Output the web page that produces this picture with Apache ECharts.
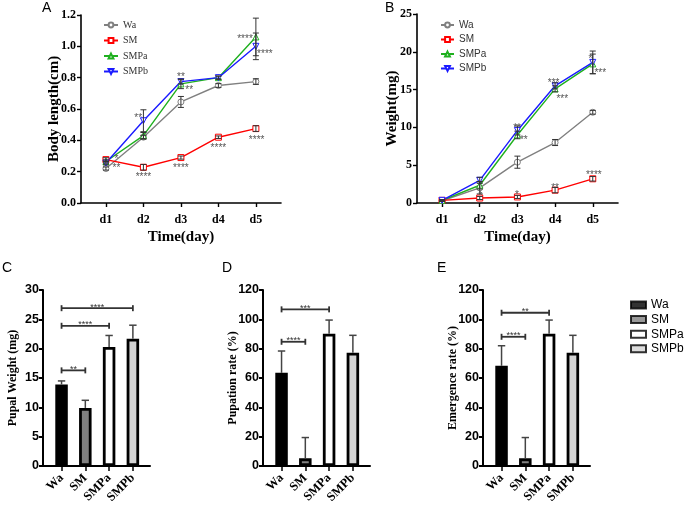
<!DOCTYPE html>
<html><head><meta charset="utf-8">
<script src="https://cdn.jsdelivr.net/npm/echarts@6/dist/echarts.min.js"></script>
<style>html,body{margin:0;padding:0;background:#fff}#c{width:685px;height:507px}</style>
</head><body><div id="c"></div>
<script>
// ---------- DATA ----------
const days = ['d1','d2','d3','d4','d5'];
const groups = ['Wa','SM','SMPa','SMPb'];
const dayPos = [1,2,3,4,5];
const groupPos = [1,2,3,4];

// Panel A: body length (cm)
const lenWa   = [0.22, 0.42, 0.645, 0.75, 0.775];
const lenSM   = [0.277, 0.228, 0.29, 0.42, 0.475];
const lenSMPa = [0.265, 0.43, 0.76, 0.80, 1.06];
const lenSMPb = [0.255, 0.525, 0.775, 0.80, 1.0];
const lenErrWa   = [0.01, 0.012, 0.035, 0.012, 0.018];
const lenErrSM   = [0.012, 0.018, 0.01, 0.008, 0.018];
const lenErrSMPa = [0.01, 0.02, 0.03, 0.01, 0.12];
const lenErrSMPb = [0.012, 0.07, 0.015, 0.01, 0.085];
const sigA = [[1.28,0.30,'*'],[1.28,0.24,'**'],[2.0,0.185,'****'],[1.86,0.563,'**'],[3.0,0.24,'****'],
  [3.0,0.82,'**'],[3.22,0.74,'**'],[4.0,0.368,'****'],[4.71,1.063,'****'],[5.24,0.967,'****'],[5.02,0.419,'****']];

// Panel B: weight (mg)
const wtWa   = [0.3, 2.0, 5.4, 8.0, 12.0];
const wtSM   = [0.35, 0.66, 0.8, 1.7, 3.2];
const wtSMPa = [0.35, 2.35, 9.0, 15.1, 18.4];
const wtSMPb = [0.35, 3.0, 9.6, 15.5, 18.6];
const wtErrWa   = [0.1, 0.8, 0.8, 0.4, 0.25];
const wtErrSM   = [0.1, 0.2, 0.2, 0.35, 0.3];
const wtErrSMPa = [0.1, 0.5, 0.5, 0.4, 1.3];
const wtErrSMPb = [0.1, 0.4, 0.6, 0.4, 1.5];
const sigB = [[2.02,1.3,'*'],[2.99,10.35,'**'],[3.17,8.7,'**'],[2.99,1.45,'*'],[3.96,16.3,'***'],
  [4.19,14.1,'***'],[4.0,2.3,'**'],[4.94,19.45,'*'],[5.2,17.5,'***'],[5.03,4.05,'****']];

// Panel C: pupal weight (mg)
const pupalWeight = [13.9, 9.9, 20.3, 21.7];
const pupalWeightErr = [0.6, 1.3, 1.95, 2.3];
const bracketsC = [[1,2,16.3,'**'],[1,3,23.9,'****'],[1,4,26.9,'****']];
// Panel D: pupation rate (%)
const pupationRate = [63.5, 5.2, 90.2, 77.2];
const pupationRateErr = [14.9, 14.2, 9.3, 11.9];
const bracketsD = [[1,2,84.7,'****'],[1,3,106.8,'***']];
// Panel E: emergence rate (%)
const emergenceRate = [68.3, 5.2, 90.2, 77.2];
const emergenceRateErr = [13.7, 14.2, 9.3, 11.9];
const bracketsE = [[1,2,88.1,'****'],[1,3,104.5,'**']];

// ---------- STYLE ----------
const SERIF = 'Liberation Serif';
const SANS = 'Liberation Sans';
const lineColors = ['#808080','#ff0000','#1fb01f','#1a1aff'];
const symbols = ['circle','rect','triangle','triangle'];
const symRot = [0,0,0,180];
const barColors = ['#000000','#808080','#ffffff','#d3d3d3'];

const chart = echarts.init(document.getElementById('c'), null, {renderer:'canvas'});

function pts(vals){ return vals.map((v,i)=>[dayPos[i], v]); }
function errPts(vals, errs, pos){ return vals.map((v,i)=>[pos[i], v, errs[i]]); }

function errSeries(grid, vals, errs, pos, twoSided, color, lw, cap){
  return {
    type:'custom', xAxisIndex:grid, yAxisIndex:grid, z:5, silent:true,
    encode:{x:0,y:1},
    data: errPts(vals, errs, pos),
    renderItem(params, api){
      const x = api.value(0), y = api.value(1), e = api.value(2);
      const top = api.coord([x, y+e]);
      const bot = twoSided ? api.coord([x, y-e]) : api.coord([x, y]);
      const st = {stroke:color, lineWidth:lw};
      const ch = [
        {type:'line', shape:{x1:top[0],y1:top[1],x2:bot[0],y2:bot[1]}, style:st},
        {type:'line', shape:{x1:top[0]-cap,y1:top[1],x2:top[0]+cap,y2:top[1]}, style:st}
      ];
      if (twoSided) ch.push({type:'line', shape:{x1:bot[0]-cap,y1:bot[1],x2:bot[0]+cap,y2:bot[1]}, style:st});
      return {type:'group', children:ch};
    }
  };
}

function sigSeries(grid, arr){
  return {
    type:'custom', xAxisIndex:grid, yAxisIndex:grid, z:6, silent:true,
    encode:{x:0,y:1},
    data: arr.map(a=>[a[0], a[1]]),
    renderItem(params, api){
      const p = api.coord([api.value(0), api.value(1)]);
      return {type:'text', x:p[0], y:p[1]+3, style:{text:arr[params.dataIndex][2], fill:'#555',
        font:'10px ' + SANS, align:'center', verticalAlign:'middle'}};
    }
  };
}

function bracketSeries(grid, arr){
  return {
    type:'custom', xAxisIndex:grid, yAxisIndex:grid, z:6, silent:true,
    encode:{x:[0,1],y:2},
    data: arr.map(a=>[a[0], a[1], a[2]]),
    renderItem(params, api){
      const a = api.coord([api.value(0), api.value(2)]);
      const b = api.coord([api.value(1), api.value(2)]);
      const st = {stroke:'#333', lineWidth:1.8};
      return {type:'group', children:[
        {type:'line', shape:{x1:a[0],y1:a[1],x2:b[0],y2:b[1]}, style:st},
        {type:'line', shape:{x1:a[0],y1:a[1]-3,x2:a[0],y2:a[1]+3}, style:st},
        {type:'line', shape:{x1:b[0],y1:b[1]-3,x2:b[0],y2:b[1]+3}, style:st},
        {type:'text', x:(a[0]+b[0])/2, y:a[1]-1, style:{text:arr[params.dataIndex][3], fill:'#333',
          font:'9px ' + SANS, align:'center', verticalAlign:'middle'}}
      ]};
    }
  };
}

function lineSeries(grid, name, vals, k){
  return {
    type:'line', name:name, xAxisIndex:grid, yAxisIndex:grid, data:pts(vals), z:3,
    symbol:symbols[k], symbolRotate:symRot[k], symbolSize:6, showSymbol:true,
    lineStyle:{color:lineColors[k], width:1.4},
    itemStyle:{color:'#ffffff', borderColor:lineColors[k], borderWidth:1},
    emphasis:{disabled:true}, animation:false
  };
}

function lineXAxis(grid){
  return {
    type:'value', gridIndex:grid, min:0.335, max:5.67,
    axisLine:{show:true, lineStyle:{color:'#000', width:1.6}},
    axisTick:{show:true, customValues:dayPos, length:4, lineStyle:{color:'#000', width:1.4}},
    axisLabel:{customValues:dayPos, formatter:v=>days[Math.round(v)-1], color:'#000',
      fontFamily:SERIF, fontWeight:'bold', fontSize:12, margin:11},
    splitLine:{show:false},
    name:'Time(day)', nameLocation:'middle', nameGap:27, nameMoveOverlap:false,
    nameTextStyle:{fontFamily:SERIF, fontWeight:'bold', fontSize:15, color:'#000'}
  };
}
function lineYAxis(grid, max, interval, name, fmt, gap){
  return {
    type:'value', gridIndex:grid, min:0, max:max, interval:interval,
    axisLine:{show:true, lineStyle:{color:'#000', width:1.6}},
    axisTick:{show:true, length:4, lineStyle:{color:'#000', width:1.4}},
    axisLabel:{formatter:fmt, color:'#000', fontFamily:SERIF, fontWeight:'bold', fontSize:12, margin:5},
    splitLine:{show:false},
    name:name, nameLocation:'middle', nameGap:gap, nameMoveOverlap:false,
    nameTextStyle:{fontFamily:SERIF, fontWeight:'bold', fontSize:15, color:'#000'}
  };
}
function barXAxis(grid){
  return {
    type:'value', gridIndex:grid, min:0.22, max:4.72,
    axisLine:{show:true, lineStyle:{color:'#000', width:2}},
    axisTick:{show:true, customValues:groupPos, length:5, lineStyle:{color:'#000', width:1.5}},
    axisLabel:{customValues:groupPos, formatter:v=>groups[Math.round(v)-1], rotate:45, color:'#000',
      fontFamily:SERIF, fontWeight:'bold', fontSize:12.5, margin:10},
    splitLine:{show:false}
  };
}
function barYAxis(grid, max, interval, name){
  return {
    type:'value', gridIndex:grid, min:0, max:max, interval:interval,
    axisLine:{show:true, lineStyle:{color:'#000', width:2}},
    axisTick:{show:true, length:4, lineStyle:{color:'#000', width:2}},
    axisLabel:{color:'#000', fontFamily:SANS, fontWeight:'bold', fontSize:12.5, margin:4},
    splitLine:{show:false},
    name:name, nameLocation:'middle', nameGap:24, nameMoveOverlap:false,
    nameTextStyle:{fontFamily:SERIF, fontWeight:'bold', fontSize:12, color:'#000'}
  };
}
function barSeries(grid, vals){
  return {
    type:'bar', xAxisIndex:grid, yAxisIndex:grid, barWidth:12.5, z:2,
    data: vals.map((v,i)=>({value:[groupPos[i], v], itemStyle:{color:barColors[i]}})),
    itemStyle:{borderColor:'#000', borderWidth:2.8},
    emphasis:{disabled:true}, animation:false
  };
}

const series = [];
// A
[lenWa,lenSM,lenSMPa,lenSMPb].forEach((v,k)=>series.push(lineSeries(0, groups[k], v, k)));
[[lenWa,lenErrWa],[lenSM,lenErrSM],[lenSMPa,lenErrSMPa],[lenSMPb,lenErrSMPb]].forEach(p=>
  series.push(errSeries(0, p[0], p[1], dayPos, true, '#333', 1, 3)));
series.push(sigSeries(0, sigA));
// B
[wtWa,wtSM,wtSMPa,wtSMPb].forEach((v,k)=>series.push(lineSeries(1, groups[k], v, k)));
[[wtWa,wtErrWa],[wtSM,wtErrSM],[wtSMPa,wtErrSMPa],[wtSMPb,wtErrSMPb]].forEach(p=>
  series.push(errSeries(1, p[0], p[1], dayPos, true, '#333', 1, 3)));
series.push(sigSeries(1, sigB));
// C, D, E
series.push(barSeries(2, pupalWeight));
series.push(errSeries(2, pupalWeight, pupalWeightErr, groupPos, false, '#444', 1.5, 3.7));
series.push(bracketSeries(2, bracketsC));
series.push(barSeries(3, pupationRate));
series.push(errSeries(3, pupationRate, pupationRateErr, groupPos, false, '#444', 1.5, 3.7));
series.push(bracketSeries(3, bracketsD));
series.push(barSeries(4, emergenceRate));
series.push(errSeries(4, emergenceRate, emergenceRateErr, groupPos, false, '#444', 1.5, 3.7));
series.push(bracketSeries(4, bracketsE));
// legend carriers for bar panels
groups.forEach((g,k)=>series.push({
  type:'scatter', name:'bar:'+g, xAxisIndex:4, yAxisIndex:4, data:[], symbol:'rect',
  itemStyle:{color:barColors[k], borderColor:'#000', borderWidth:2}
}));

const option = {
  animation:false,
  backgroundColor:'#fff',
  grid:[
    {left:81, top:15, width:200, height:188},
    {left:417, top:14, width:201, height:189},
    {left:43, top:290, width:107, height:176},
    {left:263, top:290, width:107, height:176},
    {left:483, top:290, width:107, height:176}
  ],
  xAxis:[lineXAxis(0), lineXAxis(1), barXAxis(2), barXAxis(3), barXAxis(4)],
  yAxis:[
    lineYAxis(0, 1.2, 0.2, 'Body length(cm)', v=>v.toFixed(1), 19),
    lineYAxis(1, 25, 5, 'Weight(mg)', v=>String(v), 17),
    barYAxis(2, 30, 5, 'Pupal Weight (mg)'),
    barYAxis(3, 120, 20, 'Pupation rate (%)'),
    barYAxis(4, 120, 20, 'Emergence rate (%)')
  ],
  legend:[
    {data:groups, orient:'vertical', left:98, top:15, itemWidth:14, itemHeight:6, itemGap:5.5,
      textStyle:{fontFamily:SERIF, fontSize:10, color:'#333'}, selectedMode:false},
    {data:groups, orient:'vertical', left:435, top:15, itemWidth:13, itemHeight:6, itemGap:4.5,
      textStyle:{fontFamily:SANS, fontSize:10, color:'#333'}, selectedMode:false},
    {data:groups.map(g=>({name:'bar:'+g, icon:'rect'})), orient:'vertical', left:625, top:294,
      itemWidth:15, itemHeight:7, itemGap:2.6, formatter:n=>n.replace('bar:',''),
      textStyle:{fontFamily:SANS, fontSize:12, color:'#000'}, selectedMode:false}
  ],
  graphic:[
    {type:'text', left:42, top:1, style:{text:'A', font:'14px ' + SANS, fill:'#000'}},
    {type:'text', left:385, top:1, style:{text:'B', font:'14px ' + SANS, fill:'#000'}},
    {type:'text', left:2, top:261, style:{text:'C', font:'14px ' + SANS, fill:'#000'}},
    {type:'text', left:222, top:261, style:{text:'D', font:'14px ' + SANS, fill:'#000'}},
    {type:'text', left:437, top:261, style:{text:'E', font:'14px ' + SANS, fill:'#000'}}
  ],
  series:series
};
chart.setOption(option);
</script>
</body></html>
